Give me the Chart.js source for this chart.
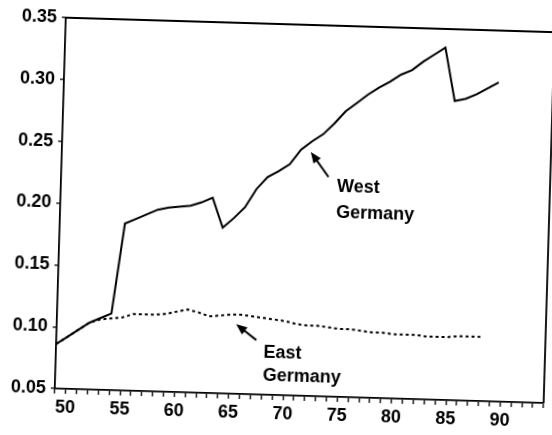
<!DOCTYPE html>
<html>
<head>
<meta charset="utf-8">
<script src="https://cdn.jsdelivr.net/npm/chart.js@4/dist/chart.umd.min.js"></script>
<style>
  html, body { margin: 0; padding: 0; background: #fff; overflow: hidden; }
  #wrap { width: 552px; height: 435px; }
  /* the scanned figure is slightly tilted clockwise */
  #chart { transform: rotate(1.7deg); transform-origin: 276px 217.5px; }
</style>
</head>
<body>
<div id="wrap"><canvas id="chart" width="552" height="435"></canvas></div>
<script>
// years 1949..1989
const years = [1949, 1950, 1951, 1952, 1953, 1954, 1955, 1956, 1957, 1958,
               1959, 1960, 1961, 1962, 1963, 1964, 1965, 1966, 1967, 1968,
               1969, 1970, 1971, 1972, 1973, 1974, 1975, 1976, 1977, 1978,
               1979, 1980, 1981, 1982, 1983, 1984, 1985, 1986, 1987, 1988, 1989];

const westGermany = [0.086, 0.092, 0.098, 0.104, 0.108, 0.112, 0.185, 0.189, 0.193, 0.197,
                     0.199, 0.200, 0.201, 0.204, 0.208, 0.184, 0.192, 0.201, 0.216, 0.226,
                     0.231, 0.237, 0.249, 0.256, 0.262, 0.271, 0.281, 0.288, 0.295, 0.301,
                     0.306, 0.312, 0.316, 0.323, 0.329, 0.335, 0.292, 0.294, 0.298, 0.303, 0.308];

// East Germany series stops in 1988
const eastGermany = [0.086, 0.092, 0.098, 0.104, 0.107, 0.108, 0.109, 0.112, 0.112, 0.112,
                     0.113, 0.115, 0.117, 0.115, 0.112, 0.113, 0.114, 0.114, 0.113, 0.112,
                     0.111, 0.110, 0.108, 0.107, 0.107, 0.106, 0.105, 0.105, 0.104, 0.103,
                     0.103, 0.102, 0.102, 0.102, 0.101, 0.101, 0.101, 0.102, 0.102, 0.102];

const yTicks = [0.05, 0.10, 0.15, 0.20, 0.25, 0.30, 0.35];
const xLabelYears = [1950, 1955, 1960, 1965, 1970, 1975, 1980, 1985, 1990];

// labels with arrows, placed in data coordinates (year, value)
const notes = [
  { lines: ['West', 'Germany'], x: 1974.4, y: [0.2196, 0.1986], from: [1973.6, 0.2275], to: [1971.9, 0.2473] },
  { lines: ['East', 'Germany'], x: 1968.1, y: [0.0836, 0.0650], from: [1967.4, 0.0940], to: [1965.5, 0.1064] }
];

const FONT = "'Liberation Sans', Arial, sans-serif";

const framePlugin = {
  id: 'frame',
  afterDatasetsDraw(chart) {
    const { ctx, chartArea: a, scales } = chart;
    ctx.save();
    ctx.strokeStyle = '#000';
    ctx.lineWidth = 1.8;
    ctx.beginPath();
    ctx.moveTo(a.left, a.top);
    ctx.lineTo(a.right, a.top);
    ctx.lineTo(a.right, a.bottom);
    ctx.stroke();

    ctx.fillStyle = '#000';
    ctx.font = 'bold 18px ' + FONT;
    ctx.textBaseline = 'middle';
    ctx.textAlign = 'left';
    notes.forEach(n => {
      const tx = scales.x.getPixelForValue(n.x);
      n.lines.forEach((t, i) => ctx.fillText(t, tx, scales.y.getPixelForValue(n.y[i])));
      // arrow
      const x1 = scales.x.getPixelForValue(n.from[0]), y1 = scales.y.getPixelForValue(n.from[1]);
      const x2 = scales.x.getPixelForValue(n.to[0]), y2 = scales.y.getPixelForValue(n.to[1]);
      const ang = Math.atan2(y2 - y1, x2 - x1);
      const hl = 11, hw = 4.5;
      ctx.lineWidth = 2;
      ctx.beginPath();
      ctx.moveTo(x1, y1);
      ctx.lineTo(x2 - Math.cos(ang) * hl * 0.8, y2 - Math.sin(ang) * hl * 0.8);
      ctx.stroke();
      ctx.beginPath();
      ctx.moveTo(x2, y2);
      ctx.lineTo(x2 - Math.cos(ang) * hl - Math.sin(ang) * hw, y2 - Math.sin(ang) * hl + Math.cos(ang) * hw);
      ctx.lineTo(x2 - Math.cos(ang) * hl + Math.sin(ang) * hw, y2 - Math.sin(ang) * hl - Math.cos(ang) * hw);
      ctx.closePath();
      ctx.fill();
    });
    ctx.restore();
  }
};

new Chart(document.getElementById('chart'), {
  type: 'line',
  data: {
    datasets: [
      {
        label: 'West Germany',
        data: years.map((yr, i) => ({ x: yr, y: westGermany[i] })),
        borderColor: '#000',
        borderWidth: 2,
        pointRadius: 0,
        tension: 0
      },
      {
        label: 'East Germany',
        data: eastGermany.map((v, i) => ({ x: years[i], y: v })),
        borderColor: '#000',
        borderWidth: 2,
        borderDash: [3, 3],
        pointRadius: 0,
        tension: 0
      }
    ]
  },
  options: {
    responsive: false,
    animation: false,
    events: [],
    layout: { padding: { top: 24, right: 1, left: 0, bottom: 0 } },
    plugins: {
      legend: { display: false },
      tooltip: { enabled: false }
    },
    scales: {
      x: {
        type: 'linear',
        min: 1949,
        max: 1994,
        afterFit(s) { s.height = 40; },
        afterBuildTicks(s) {
          const t = [];
          for (let yr = 1949; yr <= 1994; yr++) t.push({ value: yr });
          s.ticks = t;
        },
        ticks: {
          autoSkip: false,
          maxRotation: 0,
          padding: 3,
          color: '#000',
          font: { family: FONT, size: 18, weight: 'bold' },
          callback: v => xLabelYears.includes(v) ? String(v - 1900) : ''
        },
        grid: { drawOnChartArea: false, tickLength: 5, color: '#000', lineWidth: 1.3 },
        border: { color: '#000', width: 1.8 }
      },
      y: {
        min: 0.05,
        max: 0.35,
        afterFit(s) { s.width = 60; },
        afterBuildTicks(s) { s.ticks = yTicks.map(v => ({ value: v })); },
        ticks: {
          padding: 5,
          color: '#000',
          font: { family: FONT, size: 18, weight: 'bold' },
          callback: v => v.toFixed(2)
        },
        grid: { drawOnChartArea: false, tickLength: 4, color: '#000', lineWidth: 1.3 },
        border: { color: '#000', width: 1.8 }
      }
    }
  },
  plugins: [framePlugin]
});
</script>
</body>
</html>
